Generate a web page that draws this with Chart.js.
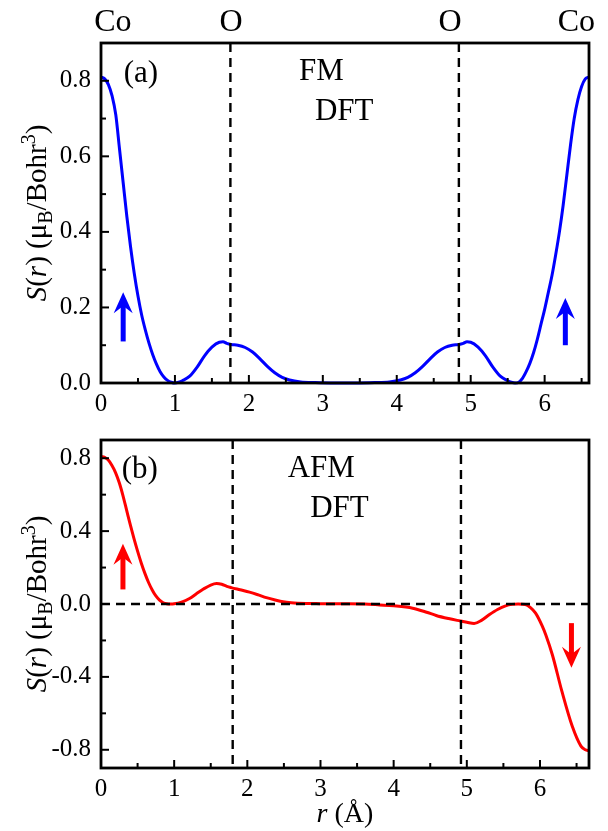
<!DOCTYPE html>
<html><head><meta charset="utf-8">
<script src="https://cdn.jsdelivr.net/npm/chart.js@4"></script>
<style>
html,body{margin:0;padding:0;background:#fff;}
canvas{position:absolute;left:0;display:block;}
#c1{top:0;} #c2{top:415px;}
</style>
</head><body>
<canvas id="c1" width="608" height="415"></canvas>
<canvas id="c2" width="608" height="416"></canvas>
<script>
// ---------- data ----------
const fmR = [0,0.05,0.1,0.15,0.2,0.25,0.3,0.35,0.4,0.45,0.5,0.55,0.6,0.65,0.7,0.75,0.8,0.85,0.9,0.95,1.0,1.05,1.1,1.2,1.3,1.4,1.5,1.6,1.65,1.7,1.76,1.85,1.95,2.05,2.15,2.25,2.35,2.45,2.55,2.7,2.9,3.1,3.3,3.5,3.7,3.9,4.05,4.15,4.25,4.35,4.45,4.55,4.65,4.75,4.84,4.9,4.95,5.0,5.1,5.2,5.3,5.4,5.5,5.55,5.6,5.65,5.7,5.75,5.8,5.85,5.9,5.95,6.0,6.05,6.1,6.15,6.2,6.25,6.3,6.35,6.4,6.45,6.5,6.55,6.6];
const fmS = [0.81,0.805,0.79,0.76,0.71,0.62,0.53,0.44,0.36,0.29,0.23,0.18,0.14,0.105,0.075,0.05,0.03,0.016,0.007,0.002,0,0.002,0.006,0.018,0.042,0.072,0.095,0.108,0.109,0.105,0.102,0.1,0.094,0.082,0.064,0.044,0.027,0.015,0.008,0.003,0.001,0,0,0,0.001,0.003,0.008,0.015,0.027,0.044,0.064,0.082,0.094,0.1,0.102,0.105,0.109,0.108,0.095,0.072,0.042,0.018,0.006,0.002,0,0.002,0.012,0.03,0.052,0.08,0.115,0.155,0.195,0.24,0.285,0.34,0.40,0.47,0.55,0.63,0.70,0.75,0.785,0.805,0.81];

const afmR = [0,0.05,0.1,0.15,0.2,0.25,0.3,0.35,0.4,0.45,0.5,0.55,0.6,0.65,0.7,0.75,0.8,0.85,0.9,0.95,1.0,1.1,1.21,1.3,1.4,1.5,1.58,1.65,1.72,1.78,1.9,2.03,2.15,2.26,2.38,2.49,2.6,2.8,3.0,3.3,3.6,3.81,4.0,4.26,4.45,4.58,4.75,4.91,5.0,5.1,5.2,5.31,5.42,5.53,5.62,5.7,5.8,5.87,5.94,6.03,6.08,6.17,6.3,6.44,6.56,6.62,6.67];
const afmS = [0.81,0.805,0.79,0.76,0.72,0.665,0.595,0.515,0.435,0.36,0.29,0.225,0.168,0.118,0.077,0.044,0.021,0.007,0.001,0,0.001,0.01,0.03,0.055,0.082,0.104,0.112,0.108,0.097,0.09,0.078,0.065,0.05,0.035,0.022,0.012,0.007,0.003,0.002,0.001,0,-0.005,-0.01,-0.023,-0.045,-0.063,-0.08,-0.093,-0.1,-0.107,-0.09,-0.058,-0.03,-0.01,-0.002,0,-0.003,-0.02,-0.05,-0.12,-0.17,-0.28,-0.48,-0.67,-0.78,-0.8,-0.805];

const xTicks = [0,1,2,3,4,5,6];
const xMinor = [0.5,1.5,2.5,3.5,4.5,5.5,6.5];
const yTicksTop = [0,0.2,0.4,0.6,0.8];
const yMinorTop = [0.1,0.3,0.5,0.7];
const yTicksBot = [-0.8,-0.4,0,0.4,0.8];
const yMinorBot = [-0.6,-0.2,0.2,0.6];

const atomLabels = ['Co','O','O','Co'];
const atomPos = [0.16,1.76,4.72,6.43];

const vLinesTop = [1.75,4.84];
const vLinesBot = [1.8,4.92];
const hLinesBot = [0];

const arrowsTop = [{x:0.3,from:0.11,to:0.24},{x:6.28,from:0.10,to:0.225}];
const arrowsBot = [{x:0.3,from:0.08,to:0.33},{x:6.43,from:-0.105,to:-0.35}];

const textsTop = [{t:'(a)',x:0.54,y:0.818},{t:'FM',x:2.98,y:0.824},{t:'DFT',x:3.29,y:0.718}];
const textsBot = [{t:'(b)',x:0.53,y:0.738},{t:'AFM',x:3.01,y:0.74},{t:'DFT',x:3.26,y:0.52}];

// ---------- helpers ----------
const SERIF = '"Liberation Serif","Times New Roman",serif';
const TICK_FONT = {family: SERIF, size: 25};

function drawYTitle(ctx, cx, cy, size){
  const norm = `${size}px ${SERIF}`, ital = `italic ${size}px ${SERIF}`, small = `${Math.round(size*0.68)}px ${SERIF}`;
  const parts = [
    {t:'S', f:ital, dy:0},{t:'(', f:norm, dy:0},{t:'r', f:ital, dy:0},{t:') (\u03bc', f:norm, dy:0},
    {t:'B', f:small, dy:size*0.2},{t:'/Bohr', f:norm, dy:0},{t:'3', f:small, dy:-size*0.38},{t:')', f:norm, dy:0}
  ];
  let total = 0;
  parts.forEach(p=>{ctx.font=p.f; p.w=ctx.measureText(p.t).width; total+=p.w;});
  ctx.save();
  ctx.translate(cx, cy); ctx.rotate(-Math.PI/2);
  ctx.fillStyle='#000'; ctx.textBaseline='alphabetic'; ctx.textAlign='left';
  let x = -total/2;
  parts.forEach(p=>{ctx.font=p.f; ctx.fillText(p.t, x, p.dy); x+=p.w;});
  ctx.restore();
}

function makePlugin(cfg){
  return {
    id:'deco',
    afterDatasetsDraw(chart){
      const {ctx, chartArea:a, scales:{x,y}} = chart;
      ctx.save();
      ctx.strokeStyle='#000'; ctx.lineWidth=2.4; ctx.setLineDash([9,6]);
      cfg.vlines.forEach(v=>{const p=x.getPixelForValue(v); ctx.beginPath(); ctx.moveTo(p,a.top); ctx.lineTo(p,a.bottom); ctx.stroke();});
      cfg.hlines.forEach(v=>{const p=y.getPixelForValue(v); ctx.beginPath(); ctx.moveTo(a.left,p); ctx.lineTo(a.right,p); ctx.stroke();});
      ctx.setLineDash([]);
      // frame
      ctx.lineWidth=2.8;
      ctx.strokeRect(a.left, a.top, a.right-a.left, a.bottom-a.top);
      // inward ticks
      ctx.lineWidth=2;
      const tk=(vals,len,axis)=>vals.forEach(v=>{
        ctx.beginPath();
        if(axis==='x'){const p=x.getPixelForValue(v); ctx.moveTo(p,a.bottom); ctx.lineTo(p,a.bottom-len);}
        else {const p=y.getPixelForValue(v); ctx.moveTo(a.left,p); ctx.lineTo(a.left+len,p);}
        ctx.stroke();
      });
      tk(xTicks,8,'x'); tk(xMinor,5,'x'); tk(cfg.yMajor,8,'y'); tk(cfg.yMinor,5,'y');
      // arrows
      ctx.fillStyle=cfg.color; ctx.strokeStyle=cfg.color;
      cfg.arrows.forEach(ar=>{
        const px=x.getPixelForValue(ar.x), p0=y.getPixelForValue(ar.from), p1=y.getPixelForValue(ar.to);
        const dir = p1<p0 ? -1 : 1; const hl=21, hw=9.5;
        ctx.lineWidth=5; ctx.beginPath(); ctx.moveTo(px,p0); ctx.lineTo(px,p1-dir*hl*0.6); ctx.stroke();
        ctx.beginPath(); ctx.moveTo(px,p1); ctx.lineTo(px-hw,p1-dir*hl); ctx.lineTo(px,p1-dir*hl*0.65); ctx.lineTo(px+hw,p1-dir*hl); ctx.closePath(); ctx.fill();
      });
      // annotations
      ctx.fillStyle='#000'; ctx.textAlign='center'; ctx.textBaseline='middle';
      ctx.font=`31px ${SERIF}`;
      cfg.texts.forEach(t=>ctx.fillText(t.t, x.getPixelForValue(t.x), y.getPixelForValue(t.y)));
      if(cfg.atoms){
        ctx.font=`32px ${SERIF}`; ctx.textBaseline='alphabetic';
        atomLabels.forEach((l,i)=>ctx.fillText(l, x.getPixelForValue(atomPos[i]), 31));
      }
      // y title
      drawYTitle(ctx, 46, (a.top+a.bottom)/2, 29);
      if(cfg.xTitle){
        ctx.fillStyle='#000'; ctx.textBaseline='alphabetic'; ctx.textAlign='left';
        const f1=`italic 28px ${SERIF}`, f2=`28px ${SERIF}`;
        ctx.font=f1; const w1=ctx.measureText('r').width; ctx.font=f2; const w2=ctx.measureText(' (\u00c5)').width;
        const cx=(a.left+a.right)/2, sx=cx-(w1+w2)/2;
        ctx.font=f1; ctx.fillText('r', sx, 407); ctx.font=f2; ctx.fillText(' (\u00c5)', sx+w1, 407);
      }
      ctx.restore();
    }
  };
}

function makeChart(id, xs, ys, color, opt){
  const pts = xs.map((v,i)=>({x:v, y:ys[i]}));
  return new Chart(document.getElementById(id), {
    type:'line',
    data:{datasets:[{data:pts, borderColor:color, borderWidth:3, pointRadius:0, fill:false, cubicInterpolationMode:'monotone', clip:false}]},
    options:{
      responsive:false, animation:false, devicePixelRatio:1,
      layout:{padding:{top:opt.padTop, right:19, left:0, bottom:0}},
      plugins:{legend:{display:false}, tooltip:{enabled:false}},
      scales:{
        x:{type:'linear', min:0, max:opt.xMax,
           grid:{display:false, drawTicks:false}, border:{display:false},
           ticks:{font:TICK_FONT, color:'#000', padding:6, maxRotation:0, autoSkip:false, callback:v=>String(v)},
           afterBuildTicks:s=>{s.ticks = xTicks.map(v=>({value:v}));},
           afterFit:s=>{s.height = opt.xH;}},
        y:{type:'linear', min:opt.yMin, max:opt.yMax,
           grid:{display:false, drawTicks:false}, border:{display:false},
           ticks:{font:TICK_FONT, color:'#000', padding:10, autoSkip:false, callback:v=>Number(v).toFixed(1)},
           afterBuildTicks:s=>{s.ticks = opt.yMajor.map(v=>({value:v}));},
           afterFit:s=>{s.width = 101;}}
      }
    },
    plugins:[makePlugin({vlines:opt.vlines, hlines:opt.hlines, yMajor:opt.yMajor, yMinor:opt.yMinor, arrows:opt.arrows, color, texts:opt.texts, atoms:opt.atoms, xTitle:opt.xTitle})]
  });
}

makeChart('c1', fmR, fmS, '#0000ff', {padTop:43, xMax:6.6, xH:32, yMin:0, yMax:0.9, yMajor:yTicksTop, yMinor:yMinorTop,
  vlines:vLinesTop, hlines:[], arrows:arrowsTop, texts:textsTop, atoms:true, xTitle:false});
makeChart('c2', afmR, afmS, '#ff0000', {padTop:13, xMax:6.67, xH:63, yMin:-0.9, yMax:0.9, yMajor:yTicksBot, yMinor:yMinorBot,
  vlines:vLinesBot, hlines:hLinesBot, arrows:arrowsBot, texts:textsBot, atoms:false, xTitle:true});
</script>
</body></html>
